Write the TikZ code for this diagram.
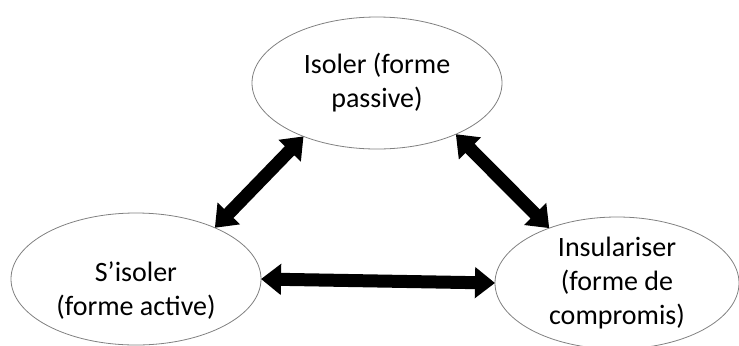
\documentclass[tikz,border=0pt]{standalone}
\usepackage{fontspec}
\setmainfont{Carlito}
\usetikzlibrary{arrows.meta,shapes.geometric}

\begin{document}
\begin{tikzpicture}[x=1bp,y=-1bp,
  forme/.style={ellipse,draw=black!50,line width=0.8bp,minimum width=250bp,minimum height=132bp,
    inner sep=0pt,outer sep=0pt,align=center,font=\fontsize{28bp}{34bp}\selectfont},
  texte/.style={align=center,inner sep=0pt,font=\fontsize{28bp}{34bp}\selectfont},
  lien/.style={line width=13bp,{Triangle[length=20bp,width=30bp]}-{Triangle[length=20bp,width=30bp]}}]
\useasboundingbox (0,0) rectangle (739,345);
% les trois formes
\node[forme] (passive) at (377,83) {Isoler (forme\\passive)};
\node[forme] (active) at (136,279) {};
\node[texte] (active-txt) at (136,291) {S’isoler\\(forme active)};
\node[forme,minimum width=244bp] (compromis) at (617,283) {Insulariser\\(forme de\\compromis)};
% liens
\draw[lien] (passive.216.6) -- (active.33.5);
\draw[lien] (passive.327) -- (compromis.141);
\draw[lien] (active.east) -- (compromis.west);
\end{tikzpicture}
\end{document}
